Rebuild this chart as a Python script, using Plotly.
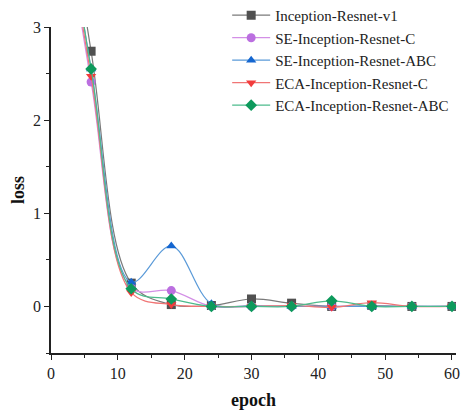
import plotly.graph_objects as go

epochs = [0, 6, 12, 18, 24, 30, 36, 42, 48, 54, 60]
names = ["Inception-Resnet-v1", "SE-Inception-Resnet-C", "SE-Inception-Resnet-ABC",
         "ECA-Inception-Resnet-C", "ECA-Inception-Resnet-ABC"]
loss_v1 = [5.6, 2.74, 0.25, 0.02, 0.01, 0.08, 0.035, 0.0, 0.01, 0.0, 0.0]
loss_se_c = [5.2, 2.41, 0.20, 0.17, 0.0, 0.0, 0.0, 0.0, 0.0, 0.0, 0.0]
loss_se_abc = [5.3, 2.55, 0.26, 0.65, 0.03, 0.01, 0.0, 0.0, 0.0, 0.0, 0.0]
loss_eca_c = [5.2, 2.47, 0.15, 0.02, 0.0, 0.0, 0.01, -0.01, 0.04, 0.0, 0.0]
loss_eca_abc = [5.3, 2.55, 0.19, 0.08, 0.0, 0.0, 0.0, 0.06, 0.0, 0.0, 0.0]

series = [loss_v1, loss_se_c, loss_se_abc, loss_eca_c, loss_eca_abc]
line_colors = ["#7a7a7a", "#d38fe6", "#5a9ad8", "#f07575", "#4dbb8c"]
marker_colors = ["#505050", "#bb6fe0", "#1466d0", "#f23c3c", "#0d9a5c"]
symbols = ["square", "circle", "triangle-up", "triangle-down", "diamond"]

fig = go.Figure()
for name, ys, lc, mc, sym in zip(names, series, line_colors, marker_colors, symbols):
    fig.add_trace(go.Scatter(
        x=epochs, y=ys, name=name, mode="lines+markers",
        line=dict(color=lc, width=1.2, shape="spline", smoothing=1.0),
        marker=dict(color=mc, symbol=sym, size=9),
    ))

serif = "Liberation Serif"
tf = dict(family=serif, size=16, color="#222")
W, H = 462, 402
L, R, T, B = 43, 14, 19, 57
fig.update_layout(
    width=W, height=H,
    margin=dict(l=L, r=R, t=T, b=B, autoexpand=False),
    paper_bgcolor="white", plot_bgcolor="white",
    font=dict(family=serif, size=15, color="#222"),
    showlegend=True,
    legend=dict(x=0.435, y=1.086, xanchor="left", yanchor="top",
                bgcolor="rgba(0,0,0,0)", font=dict(family=serif, size=15, color="#222"),
                tracegroupgap=0, itemwidth=38),
    xaxis=dict(range=[0, 60.6], tickvals=[0, 10, 20, 30, 40, 50, 60], tickfont=tf,
               automargin=False,
               showgrid=False, zeroline=False, showline=True, linecolor="#222",
               linewidth=1.5, ticks="outside", ticklen=5, tickcolor="#222",
               minor=dict(tickvals=[5, 15, 25, 35, 45, 55], ticks="outside", ticklen=3, tickcolor="#222"),
               title=dict(text="<b>epoch</b>", font=dict(family=serif, size=18, color="#111"), standoff=14)),
    yaxis=dict(range=[-0.5, 3], tickvals=[0, 1, 2, 3], tickfont=tf,
               automargin=False,
               showgrid=False, zeroline=False, showline=True, linecolor="#222",
               linewidth=1.5, ticks="outside", ticklen=5, tickcolor="#222",
               minor=dict(tickvals=[-0.5, 0.5, 1.5, 2.5], ticks="outside", ticklen=3, tickcolor="#222"),
               title=dict(text="<b>loss</b>", font=dict(family=serif, size=18, color="#111"), standoff=11)),
)

fig.write_html("out.html")
